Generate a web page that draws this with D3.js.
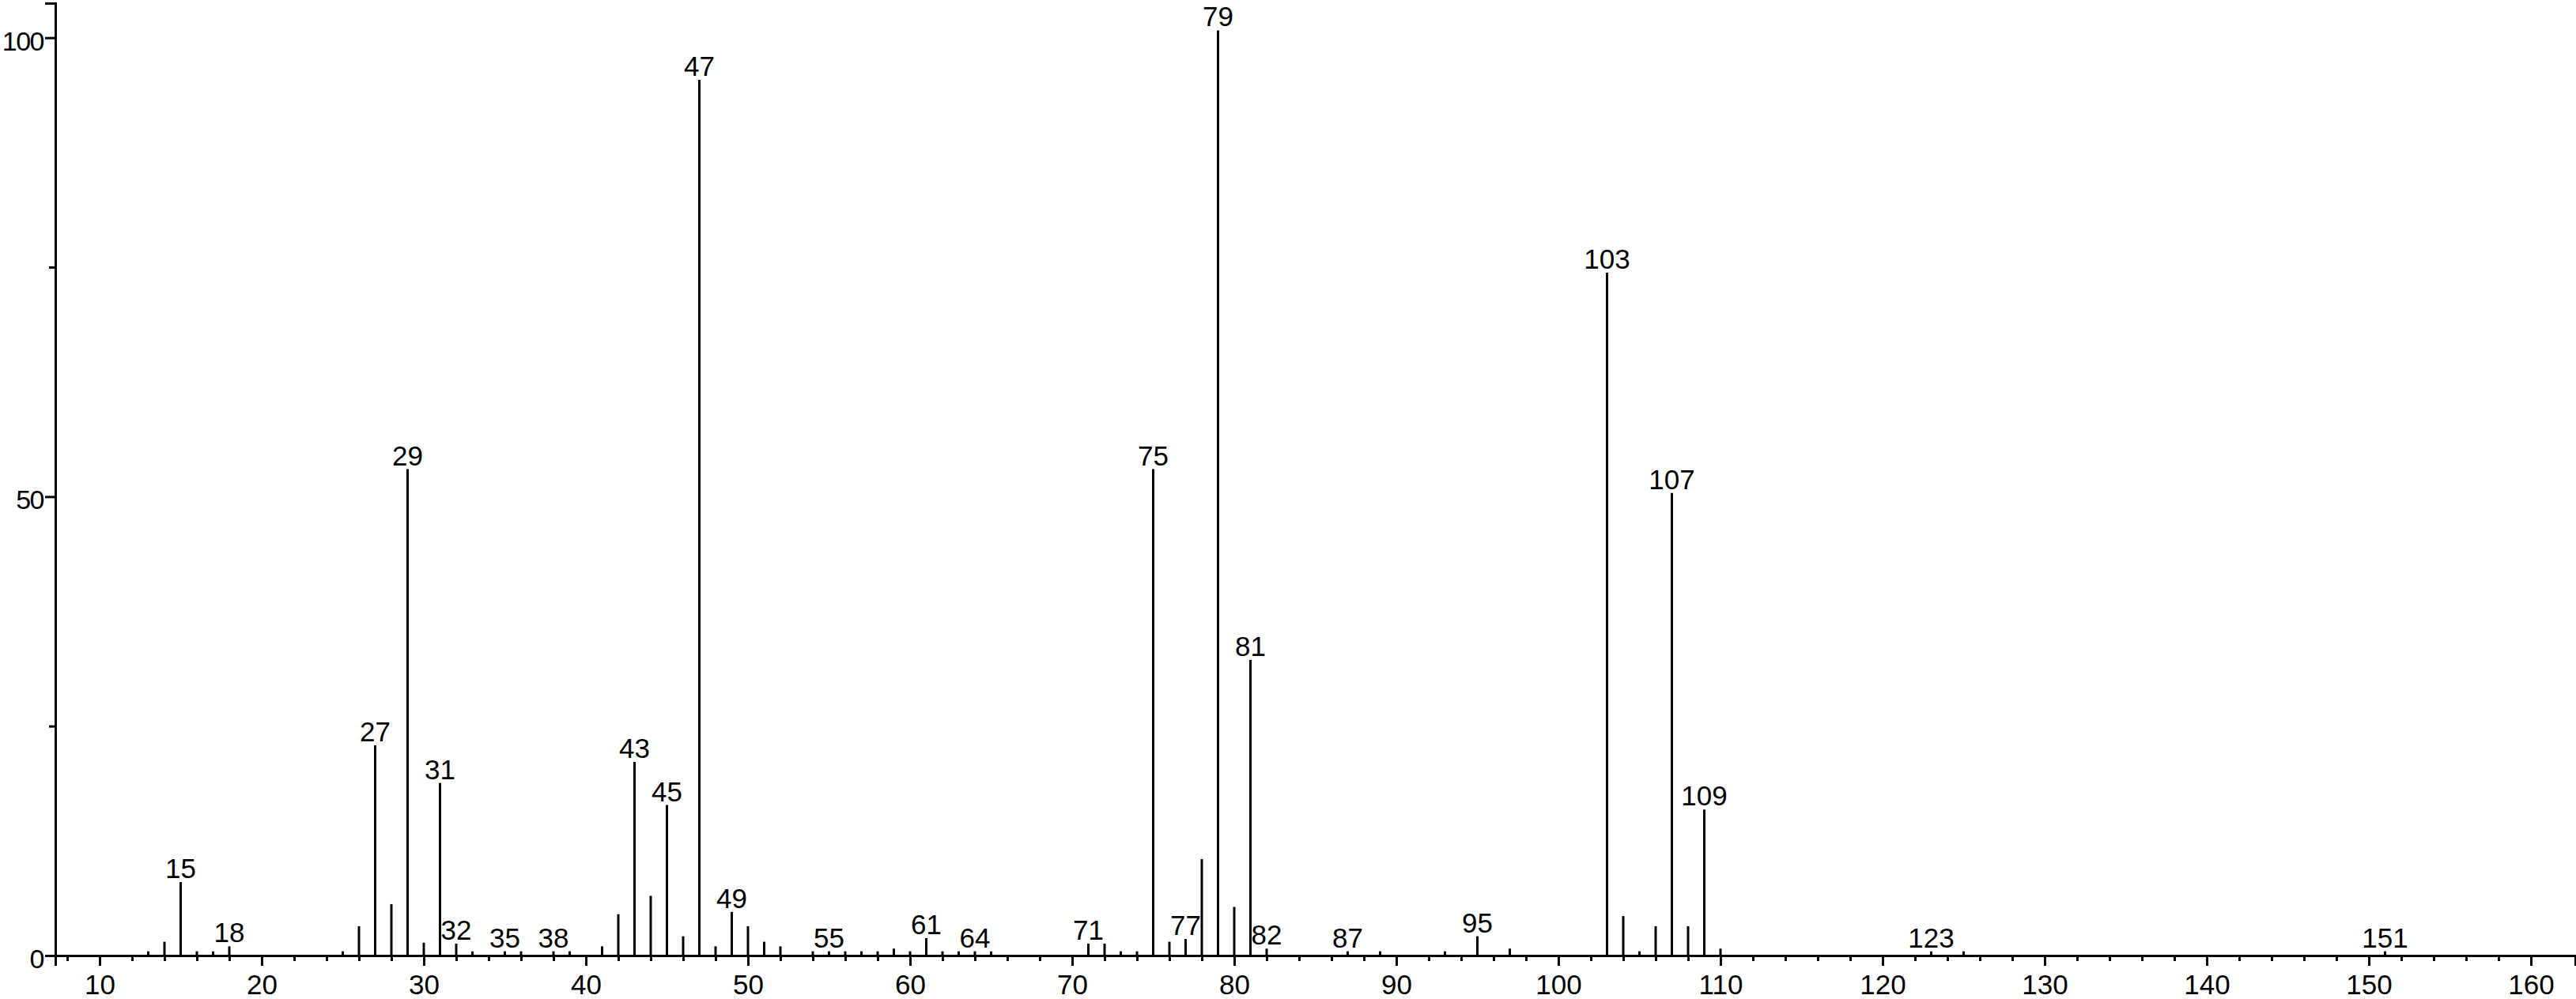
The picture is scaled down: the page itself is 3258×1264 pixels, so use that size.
<!DOCTYPE html>
<html>
<head>
<meta charset="utf-8">
<script src="https://cdn.jsdelivr.net/npm/d3@7"></script>
<style>
    body { margin: 0; background: #ffffff; }
    text { font-family: "Liberation Sans", Arial, sans-serif; }
</style>
</head>
<body>
<div id="div_placeholder"></div>
<script>
// m/z of each peak
var masses = [13, 14, 15, 16, 17, 18, 25, 26, 27, 28, 29, 30, 31, 32, 33, 35, 36, 38, 39,
    41, 42, 43, 44, 45, 46, 47, 48, 49, 50, 51, 52, 54, 55, 56, 57, 58, 59, 60, 61, 62, 63, 64, 65,
    71, 72, 73, 74, 75, 76, 77, 78, 79, 80, 81, 82, 87, 89, 93, 95, 97,
    103, 104, 105, 106, 107, 108, 109, 110, 123, 125, 151];

// relative intensity (%)
var intensities = [0.46, 1.5, 8.0, 0.46, 0.46, 1.0, 0.46, 3.2, 22.9, 5.6, 53.0, 1.4, 18.8, 1.3, 0.46, 0.46, 0.46, 0.46, 0.46,
    1.0, 4.5, 21.1, 6.5, 16.4, 2.1, 95.4, 1.0, 4.75, 3.2, 1.5, 1.0, 0.46, 0.46, 0.46, 0.46, 0.46, 0.75, 0.46, 1.9, 0.46, 0.46, 0.46, 0.46,
    1.3, 1.3, 0.46, 0.46, 53.0, 1.5, 1.8, 10.5, 100.8, 5.3, 32.2, 0.75, 0.46, 0.46, 0.46, 2.1, 0.75,
    74.4, 4.3, 0.46, 3.2, 50.4, 3.2, 15.9, 0.75, 0.46, 0.46, 0.46];

// peaks that carry a mass label
var labelled = [15, 18, 27, 29, 31, 32, 35, 38, 43, 45, 47, 49, 55, 61, 64, 71, 75, 77, 79, 81, 82, 87, 95, 103, 107, 109, 123, 151];

var xMajor = d3.range(10, 161, 10);
var xMinor = d3.range(8, 161, 2).filter(function (d) { return d % 10 !== 0; });
var yMajor = [0, 50, 100];
var yMinor = [25, 75];

var width = 3258;
var height = 1264;

var x = d3.scaleLinear()
    .domain([10 - 56 / 20.5, 160 + 56 / 20.5])
    .range([70, 3257]);

var y = d3.scaleLinear()
    .domain([0, 100 + 43.7 / 11.613])
    .range([1209, 4]);

var svg = d3.select("#div_placeholder")
    .append("svg")
    .attr("width", width)
    .attr("height", height);

var peaks = masses.map(function (m, i) {
    return { mz: m, val: intensities[i] };
});

// peak sticks
svg.append("g")
    .selectAll("line")
    .data(peaks)
    .enter()
    .append("line")
    .attr("x1", function (d) { return x(d.mz); })
    .attr("x2", function (d) { return x(d.mz); })
    .attr("y1", y(0))
    .attr("y2", function (d) { return y(d.val); })
    .style("stroke", "#000")
    .style("stroke-width", 3);

// peak labels
svg.append("g")
    .selectAll("text")
    .data(peaks.filter(function (d) { return labelled.indexOf(d.mz) >= 0; }))
    .enter()
    .append("text")
    .attr("x", function (d) { return x(d.mz); })
    .attr("y", function (d) { return y(d.val) - 5; })
    .attr("text-anchor", "middle")
    .style("font-size", "35px")
    .style("fill", "#000")
    .text(function (d) { return d.mz; });

// x axis
var xAxis = svg.append("g")
    .attr("transform", "translate(0," + y(0) + ")")
    .call(d3.axisBottom(x).tickValues(xMajor).tickSize(13).tickPadding(11).tickFormat(d3.format("d")));

svg.append("g")
    .attr("transform", "translate(0," + y(0) + ")")
    .call(d3.axisBottom(x).tickValues(xMinor).tickSize(7).tickFormat(""))
    .select(".domain").remove();

// y axis
var yAxis = svg.append("g")
    .attr("transform", "translate(" + x.range()[0] + ",0)")
    .call(d3.axisLeft(y).tickValues(yMajor).tickSize(13).tickPadding(2).tickFormat(d3.format("d")));

svg.append("g")
    .attr("transform", "translate(" + x.range()[0] + ",0)")
    .call(d3.axisLeft(y).tickValues(yMinor).tickSize(8).tickFormat(""))
    .select(".domain").remove();

svg.selectAll(".domain")
    .style("stroke", "#000")
    .style("stroke-width", 3);

svg.selectAll(".tick line")
    .style("stroke", "#000")
    .style("stroke-width", 3);

svg.selectAll(".tick text")
    .style("font-size", "35px")
    .style("font-family", "'Liberation Sans', Arial, sans-serif")
    .style("fill", "#000");

yAxis.selectAll(".tick text")
    .attr("dy", "0.45em")
    .style("font-size", "34px")
    .style("letter-spacing", "-1.5px");
</script>
</body>
</html>
